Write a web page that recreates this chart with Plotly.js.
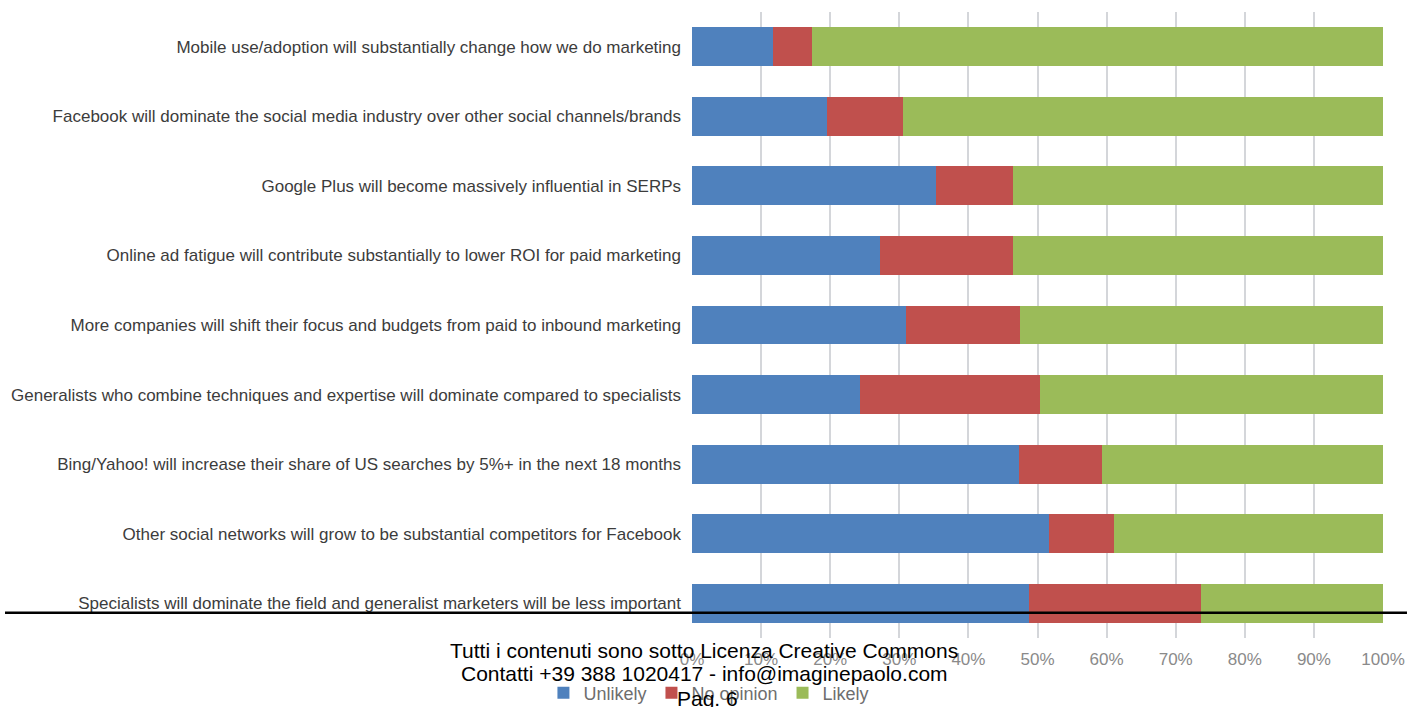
<!DOCTYPE html>
<html>
<head>
<meta charset="utf-8">
<script src="https://cdn.plot.ly/plotly-3.0.1.min.js"></script>
<style>
  html, body { margin: 0; padding: 0; background: #ffffff; }
  #chart { width: 1414px; height: 707px; }
</style>
</head>
<body>
<div id="chart"></div>
<script>
const categories = [
  "Mobile use/adoption will substantially change how we do marketing",
  "Facebook will dominate the social media industry over other social channels/brands",
  "Google Plus will become massively influential in SERPs",
  "Online ad fatigue will contribute substantially to lower ROI for paid marketing",
  "More companies will shift their focus and budgets from paid to inbound marketing",
  "Generalists who combine techniques and expertise will dominate compared to specialists",
  "Bing/Yahoo! will increase their share of US searches by 5%+ in the next 18 months",
  "Other social networks will grow to be substantial competitors for Facebook",
  "Specialists will dominate the field and generalist marketers will be less important"
];
const unlikely  = [11.7, 19.5, 35.3, 27.2, 31.0, 24.3, 47.3, 51.7, 48.7];
const noOpinion = [5.7, 11.1, 11.1, 19.2, 16.4, 26.0, 12.1, 9.3, 25.0];
const likely    = [82.6, 69.4, 53.6, 53.6, 52.6, 49.7, 40.6, 39.0, 26.3];
const seriesNames = ["Unlikely", "No opinion", "Likely"];
const tickVals = [0, 10, 20, 30, 40, 50, 60, 70, 80, 90, 100];
const tickText = ["0%", "10%", "20%", "30%", "40%", "50%", "60%", "70%", "80%", "90%", "100%"];
const footerLines = [
  "Tutti i contenuti sono sotto Licenza Creative Commons",
  "Contatti +39 388 1020417 - info@imaginepaolo.com",
  "Pag. 6"
];

const colors = ["#4f81bd", "#c0504d", "#9bbb59"];
const seriesVals = [unlikely, noOpinion, likely];

const traces = seriesVals.map((vals, i) => ({
  type: "bar",
  orientation: "h",
  name: seriesNames[i],
  y: categories,
  x: vals,
  marker: { color: colors[i], line: { width: 0 } },
  hoverinfo: "skip"
}));

const FONT = "Liberation Sans, Arial, sans-serif";

const layout = {
  width: 1414,
  height: 707,
  margin: { l: 692, r: 31, t: 12, b: 69, pad: 0, autoexpand: false },
  paper_bgcolor: "#ffffff",
  plot_bgcolor: "#ffffff",
  barmode: "stack",
  bargap: 0.44,
  font: { family: FONT },
  xaxis: {
    range: [0, 100],
    tickvals: tickVals,
    ticktext: tickText,
    showgrid: true,
    gridcolor: "#d4d6da",
    gridwidth: 2,
    zeroline: false,
    showline: false,
    ticks: "",
    ticklabelstandoff: 9,
    tickfont: { size: 17, color: "#8a8a8a", family: FONT },
    fixedrange: true
  },
  yaxis: {
    autorange: "reversed",
    showgrid: false,
    zeroline: false,
    showline: false,
    ticks: "",
    ticklabelstandoff: 10,
    tickfont: { size: 17, color: "#3c3c3c", family: FONT },
    fixedrange: true
  },
  showlegend: true,
  legend: {
    orientation: "h",
    traceorder: "normal",
    x: -0.215,
    xanchor: "left",
    y: -0.088,
    yanchor: "middle",
    font: { size: 18, color: "#6e6e6e" },
    bgcolor: "rgba(0,0,0,0)",
    itemwidth: 30
  },
  shapes: [{
    type: "line",
    xref: "paper", yref: "paper",
    x0: -0.9942, x1: 1.0347,
    y0: 0.0404, y1: 0.0404,
    line: { color: "#000000", width: 2.5 },
    layer: "above"
  }],
  annotations: [
    { text: footerLines[0], xref: "paper", yref: "paper", x: 0.0174, y: -0.0192, xanchor: "center", yanchor: "middle", showarrow: false, font: { size: 21, color: "#000000", family: FONT } },
    { text: footerLines[1], xref: "paper", yref: "paper", x: 0.0174, y: -0.0575, xanchor: "center", yanchor: "middle", showarrow: false, font: { size: 21, color: "#000000", family: FONT } },
    { text: footerLines[2], xref: "paper", yref: "paper", x: 0.023, y: -0.097, xanchor: "center", yanchor: "middle", showarrow: false, font: { size: 21, color: "#000000", family: FONT } }
  ]
};

Plotly.newPlot("chart", traces, layout, { displayModeBar: false, staticPlot: true });
</script>
</body>
</html>
